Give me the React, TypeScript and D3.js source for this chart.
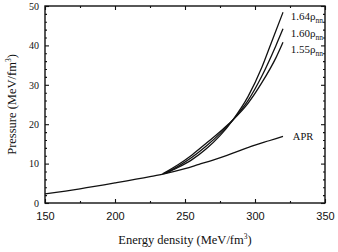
import * as d3 from "d3";
import React from "react";
import { useRef, useEffect } from "react";

// energy density (MeV/fm^3) and pressure (MeV/fm^3)
const aprX = [150, 175, 200, 225, 235, 250, 260, 270, 280, 290, 300, 310, 320];
const aprY = [2.3, 3.6, 5.1, 6.7, 7.4, 8.7, 9.8, 10.9, 12.1, 13.4, 14.7, 15.8, 16.9];

const h155X = [234, 245, 255, 265, 275, 284, 295, 305, 315, 320];
const h155Y = [7.4, 9.7, 12.2, 15.1, 18.1, 21.0, 25.3, 30.6, 36.9, 40.8];

const h160X = [235, 245, 255, 265, 275, 284, 295, 305, 315, 320];
const h160Y = [7.45, 9.3, 11.6, 14.4, 17.6, 21.0, 26.0, 32.3, 40.0, 44.2];

const h164X = [236, 245, 255, 265, 275, 284, 295, 305, 312, 320];
const h164Y = [7.5, 9.0, 11.0, 13.7, 17.1, 21.0, 27.0, 34.5, 41.0, 48.4];

const xTicks = [150, 200, 250, 300, 350];
const yTicks = [0, 10, 20, 30, 40, 50];

const seriesList = [
  { name: "APR", xs: aprX, ys: aprY },
  { name: "1.55", xs: h155X, ys: h155Y },
  { name: "1.60", xs: h160X, ys: h160Y },
  { name: "1.64", xs: h164X, ys: h164Y },
];

const labelList = [
  { main: "1.64ρ", sub: "nn", x: 322, y: 48.4 },
  { main: "1.60ρ", sub: "nn", x: 322, y: 44.2 },
  { main: "1.55ρ", sub: "nn", x: 322, y: 40.0 },
];

export default function App() {
  const width = 338;
  const height = 252;
  const margin = { left: 45, right: 13, top: 6, bottom: 49 };
  const ref = useRef(null);

  useEffect(() => {
    const svg = d3.select(ref.current);
    svg.selectAll("*").remove();

    const x = d3.scaleLinear().domain([150, 350]).range([margin.left, width - margin.right]);
    const y = d3.scaleLinear().domain([0, 50]).range([height - margin.bottom, margin.top]);

    const serif = "'Liberation Serif', 'Times New Roman', serif";
    const sans = "'Liberation Sans', Arial, sans-serif";
    const ink = "#111";

    // frame
    svg.append("rect")
      .attr("x", x(150)).attr("y", y(50))
      .attr("width", x(350) - x(150)).attr("height", y(0) - y(50))
      .attr("fill", "none").attr("stroke", ink).attr("stroke-width", 1.4);

    // ticks pointing inward, on all four sides
    const xMinor = d3.range(175, 350, 50);
    const yMinor = d3.range(2, 50, 2).filter((v) => v % 10 !== 0);

    const bottom = svg.append("g").attr("transform", `translate(0,${y(0)})`)
      .call(d3.axisBottom(x).tickValues(xTicks).tickSizeInner(-4).tickSizeOuter(0).tickPadding(9));
    bottom.selectAll("text").attr("font-family", sans).attr("font-size", 11).attr("fill", ink);

    svg.append("g").attr("transform", `translate(0,${y(0)})`)
      .call(d3.axisBottom(x).tickValues(xMinor).tickSizeInner(-2).tickSizeOuter(0).tickFormat(() => ""));
    svg.append("g").attr("transform", `translate(0,${y(50)})`)
      .call(d3.axisTop(x).tickValues(xTicks).tickSizeInner(-4).tickSizeOuter(0).tickFormat(() => ""));
    svg.append("g").attr("transform", `translate(0,${y(50)})`)
      .call(d3.axisTop(x).tickValues(xMinor).tickSizeInner(-2).tickSizeOuter(0).tickFormat(() => ""));

    const left = svg.append("g").attr("transform", `translate(${x(150)},0)`)
      .call(d3.axisLeft(y).tickValues(yTicks).tickSizeInner(-4).tickSizeOuter(0).tickPadding(6));
    left.selectAll("text").attr("font-family", serif).attr("font-size", 10).attr("fill", ink);

    svg.append("g").attr("transform", `translate(${x(150)},0)`)
      .call(d3.axisLeft(y).tickValues(yMinor).tickSizeInner(-2).tickSizeOuter(0).tickFormat(() => ""));
    svg.append("g").attr("transform", `translate(${x(350)},0)`)
      .call(d3.axisRight(y).tickValues(yTicks).tickSizeInner(-4).tickSizeOuter(0).tickFormat(() => ""));
    svg.append("g").attr("transform", `translate(${x(350)},0)`)
      .call(d3.axisRight(y).tickValues(yMinor).tickSizeInner(-2).tickSizeOuter(0).tickFormat(() => ""));

    svg.selectAll(".domain").remove();
    svg.selectAll(".tick line").attr("stroke", ink).attr("stroke-width", 1.1);

    // curves
    const line = d3.line<[number, number]>()
      .x((d) => x(d[0]))
      .y((d) => y(d[1]))
      .curve(d3.curveMonotoneX);

    seriesList.forEach((s) => {
      const pts = s.xs.map((v, i) => [v, s.ys[i]] as [number, number]);
      svg.append("path")
        .attr("d", line(pts))
        .attr("fill", "none")
        .attr("stroke", ink)
        .attr("stroke-width", 1.3);
    });

    // labels
    labelList.forEach((l) => {
      const t = svg.append("text")
        .attr("x", x(l.x) + 5).attr("y", y(l.y) + 8)
        .attr("font-family", serif).attr("font-size", 11).attr("fill", ink);
      t.append("tspan").text(l.main);
      t.append("tspan").attr("font-size", 7.5).attr("dy", 3).text(l.sub);
    });

    svg.append("text")
      .attr("x", x(322) + 7).attr("y", y(17) + 4)
      .attr("font-family", serif).attr("font-size", 10.5).attr("fill", ink)
      .text("APR");

    // axis titles
    const xt = svg.append("text")
      .attr("x", (x(150) + x(350)) / 2).attr("y", 244)
      .attr("text-anchor", "middle")
      .attr("font-family", serif).attr("font-size", 12.5).attr("fill", ink);
    xt.append("tspan").text("Energy density (MeV/fm");
    xt.append("tspan").attr("font-size", 7.5).attr("dy", -5).text("3");
    xt.append("tspan").attr("dy", 5).text(")");

    const yt = svg.append("text")
      .attr("transform", `translate(16,${(y(0) + y(50)) / 2}) rotate(-90)`)
      .attr("text-anchor", "middle")
      .attr("font-family", serif).attr("font-size", 12.5).attr("fill", ink);
    yt.append("tspan").text("Pressure (MeV/fm");
    yt.append("tspan").attr("font-size", 7.5).attr("dy", -5).text("3");
    yt.append("tspan").attr("dy", 5).text(")");
  }, []);

  return (
    <svg
      ref={ref}
      width={width}
      height={height}
      style={{ position: "absolute", left: 0, top: 0, background: "#fff" }}
    />
  );
}
